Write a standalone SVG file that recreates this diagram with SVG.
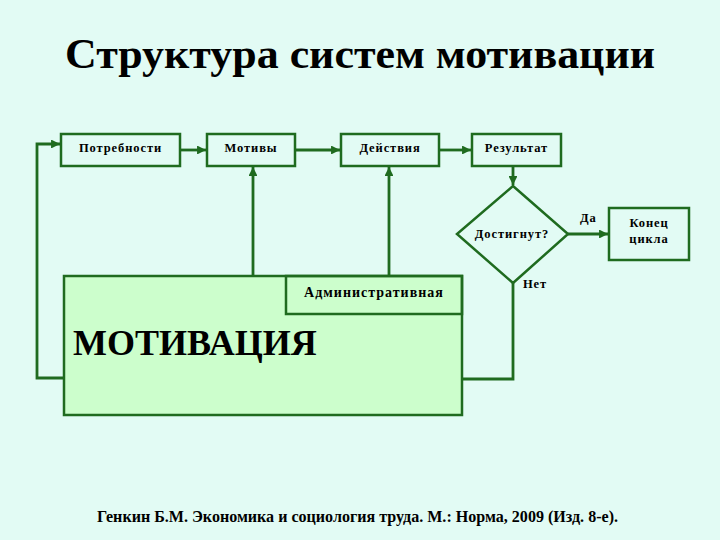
<svg xmlns="http://www.w3.org/2000/svg" width="720" height="540" viewBox="0 0 720 540">
<defs>
<marker id="ah" viewBox="0 0 10 10" refX="10" refY="5" markerWidth="3.2" markerHeight="3.2" orient="auto" markerUnits="strokeWidth">
<path d="M0,0 L10,5 L0,10 z" fill="#1f6b1f"/>
</marker>
<style>
.box{fill:none;stroke:#1f6b1f;stroke-width:2.5}
.big{fill:#ccfecc;stroke:#1f6b1f;stroke-width:2.5}
.ln{fill:none;stroke:#1f6b1f;stroke-width:2.8}
.arr{fill:none;stroke:#1f6b1f;stroke-width:2.8;marker-end:url(#ah)}
.t{font-family:"Liberation Serif","DejaVu Serif",serif;font-weight:bold;fill:#000}
.s{font-size:12.5px;letter-spacing:0.9px}
</style>
</defs>
<rect width="720" height="540" fill="#e2fbf4"/>
<text class="t" x="360" y="68" font-size="42" text-anchor="middle" textLength="590" lengthAdjust="spacingAndGlyphs">Структура систем мотивации</text>

<g id="connectors">
<polyline class="arr" points="64,378 37,378 37,144 60,144"/>
<line class="arr" x1="180" y1="150" x2="206" y2="150"/>
<line class="arr" x1="295" y1="150" x2="340" y2="150"/>
<line class="arr" x1="439" y1="150" x2="471" y2="150"/>
<line class="arr" x1="253" y1="276" x2="253" y2="167"/>
<line class="arr" x1="389" y1="276" x2="389" y2="167"/>
<line class="arr" x1="513" y1="166" x2="513" y2="185"/>
<line class="arr" x1="568" y1="234" x2="608" y2="234"/>
<polyline class="ln" points="513,283 513,379 462,379"/>
</g>

<g id="potrebnosti">
<rect class="box" x="61" y="134" width="119" height="32"/>
<text class="t s" x="120.5" y="152" text-anchor="middle">Потребности</text>
</g>
<g id="motivy">
<rect class="box" x="207" y="134" width="88" height="32"/>
<text class="t s" x="251" y="152" text-anchor="middle">Мотивы</text>
</g>
<g id="deystviya">
<rect class="box" x="341" y="134" width="98" height="32"/>
<text class="t s" x="390" y="152" text-anchor="middle">Действия</text>
</g>
<g id="rezultat">
<rect class="box" x="472" y="134" width="89" height="32"/>
<text class="t s" x="516.5" y="152" text-anchor="middle">Результат</text>
</g>
<g id="dostignut">
<polygon class="box" points="513,186 568,234 513,283 457,234"/>
<text class="t s" x="512" y="238" text-anchor="middle">Достигнут?</text>
</g>
<g id="konec">
<rect class="box" x="609" y="208" width="80" height="52"/>
<text class="t s" x="649" y="227" text-anchor="middle">Конец</text>
<text class="t s" x="649" y="243" text-anchor="middle">цикла</text>
</g>
<g id="labels">
<text class="t s" x="580" y="222">Да</text>
<text class="t s" x="523" y="288">Нет</text>
</g>
<g id="motivaciya">
<rect class="big" x="64" y="276" width="398" height="139"/>
<rect class="box" x="286" y="276" width="176" height="38"/>
<text class="t" x="374" y="297" font-size="14" letter-spacing="1" text-anchor="middle">Административная</text>
<text class="t" x="73" y="355" font-size="36">МОТИВАЦИЯ</text>
</g>
<text class="t" x="357.5" y="522" font-size="16" text-anchor="middle" textLength="521" lengthAdjust="spacingAndGlyphs">Генкин Б.М. Экономика и социология труда. М.: Норма, 2009 (Изд. 8-е).</text>
</svg>
